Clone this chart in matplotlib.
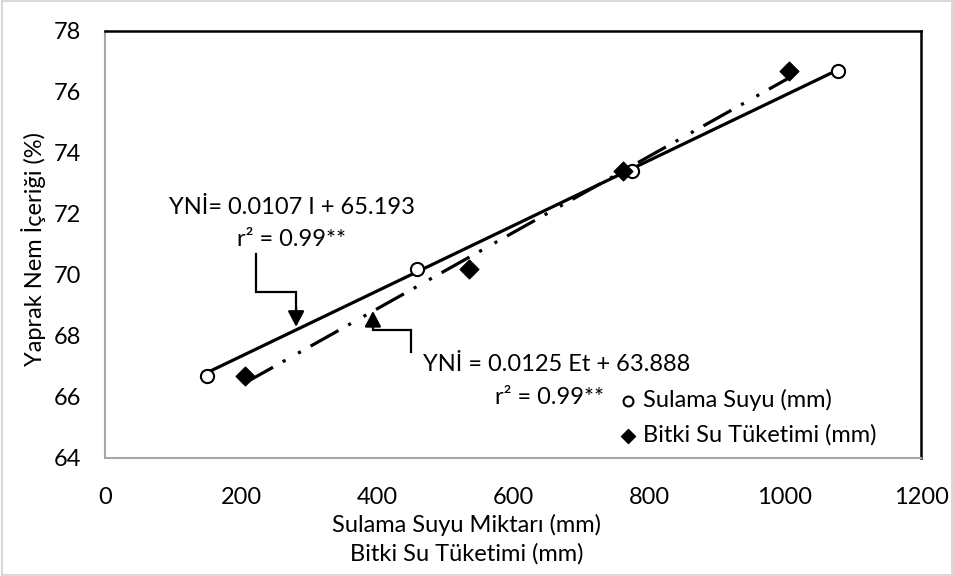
import matplotlib.pyplot as plt
from matplotlib.patches import Rectangle

plt.rcParams['font.family'] = ['Lato', 'DejaVu Sans']
FS = 17

# Sulama suyu (mm) vs yaprak nem icerigi (%)
sulama_x = [150, 459, 775, 1078]
sulama_y = [66.7, 70.2, 73.4, 76.7]

# Bitki su tuketimi (mm) vs yaprak nem icerigi (%)
bitki_x = [206, 535, 762, 1006]
bitki_y = [66.7, 70.2, 73.4, 76.7]

# trend line coefficients as written on the chart
sulama_fit = (0.0107, 65.193)
bitki_fit = (0.0125, 63.888)

x_ticks = [0, 200, 400, 600, 800, 1000, 1200]
y_ticks = [64, 66, 68, 70, 72, 74, 76, 78]

fig = plt.figure(figsize=(9.54, 5.76), dpi=100)
ax = fig.add_axes([0.1101, 0.2049, 0.8553, 0.7413])

# trend lines, drawn over each series' x range
sx = [min(sulama_x), max(sulama_x)]
ax.plot(sx, [sulama_fit[0] * v + sulama_fit[1] for v in sx],
        color='black', lw=2.3, solid_capstyle='butt', zorder=2)
bx = [min(bitki_x), max(bitki_x)]
ax.plot(bx, [bitki_fit[0] * v + bitki_fit[1] for v in bx],
        color='black', lw=2.3, linestyle=(0, (10, 3.5, 1, 4.5, 1, 3.5)),
        zorder=2)

ax.scatter(sulama_x, sulama_y, s=90, facecolors='white', edgecolors='black',
           linewidths=1.5, zorder=3, label='Sulama Suyu (mm)')
ax.scatter(bitki_x, bitki_y, s=90, marker='D', color='black', zorder=3,
           label='Bitki Su Tüketimi (mm)')

ax.set_xlim(0, 1200)
ax.set_ylim(64, 78)
ax.set_xticks(x_ticks)
ax.set_yticks(y_ticks)
ax.tick_params(length=0, labelsize=FS)
ax.tick_params(axis='y', pad=17)
ax.tick_params(axis='x', pad=21)

for side in ['left', 'bottom']:
    ax.spines[side].set_color('#a6a6a6')
    ax.spines[side].set_linewidth(1.5)
for side in ['top', 'right']:
    ax.spines[side].set_color('black')
    ax.spines[side].set_linewidth(1.8)

fig.text(0.035, 0.568, 'Yaprak Nem İçeriği (%)', rotation=90, ha='center',
         va='center', fontsize=FS)
fig.text(0.489, 0.088, 'Sulama Suyu Miktarı (mm)', ha='center', va='center',
         fontsize=FS)
fig.text(0.489, 0.038, 'Bitki Su Tüketimi (mm)', ha='center', va='center',
         fontsize=FS)

# equations
ax.text(275, 72.2, 'YNİ= 0.0107 I + 65.193', ha='center', va='center',
        fontsize=FS)
ax.text(274, 71.15, 'r² = 0.99**', ha='center', va='center', fontsize=FS)
ax.text(468, 67.05, 'YNİ = 0.0125 Et + 63.888', ha='left', va='center',
        fontsize=FS)
ax.text(574, 65.97, 'r² = 0.99**', ha='left', va='center', fontsize=FS)

# elbow arrows
head = dict(arrowstyle='-|>,head_length=0.95,head_width=0.5',
            color='black', lw=1.6, shrinkA=0, shrinkB=0)
ax.plot([222, 222, 281, 281], [70.69, 69.44, 69.44, 68.9], color='black',
        lw=1.6, solid_joinstyle='miter')
ax.annotate('', xy=(281, 68.3), xytext=(281, 68.95), arrowprops=head)
ax.plot([450, 450, 394, 394], [67.48, 68.2, 68.2, 68.3], color='black',
        lw=1.6, solid_joinstyle='miter')
ax.annotate('', xy=(394, 68.82), xytext=(394, 68.25), arrowprops=head)

leg = ax.legend(loc='center left', bbox_to_anchor=(0.638, 0.275),
                bbox_transform=fig.transFigure, frameon=False, fontsize=FS,
                handlelength=0.6, handletextpad=0.35, labelspacing=0.55,
                markerscale=0.75, borderpad=0)

fig.patches.append(Rectangle((0.002, 0.002), 0.996, 0.996,
                             transform=fig.transFigure, fill=False,
                             edgecolor='#d9d9d9', lw=1.5))

fig.savefig('out.png', dpi=100)
